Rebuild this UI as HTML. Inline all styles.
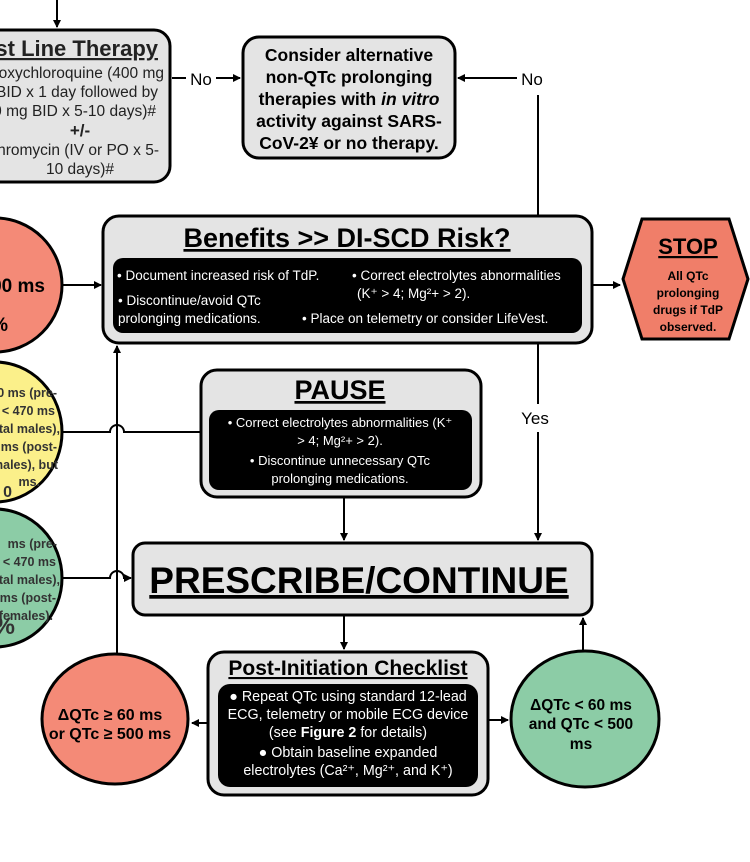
<!DOCTYPE html>
<html><head><meta charset="utf-8"><style>
html,body{margin:0;padding:0;background:#fff;}
svg{display:block;font-family:"Liberation Sans",sans-serif;}
</style></head><body>
<svg width="750" height="862" viewBox="0 0 750 862" xmlns="http://www.w3.org/2000/svg">
<defs>
<marker id="ah" markerWidth="8" markerHeight="8" refX="7" refY="4" orient="auto" markerUnits="userSpaceOnUse"><path d="M0,0 L8,4 L0,8 z" fill="#000"/></marker>
</defs>
<g stroke="#000" stroke-width="2" fill="none">
<line x1="57" y1="0" x2="57" y2="27" marker-end="url(#ah)"/>
<line x1="172" y1="78" x2="186" y2="78"/><line x1="216" y1="78" x2="240" y2="78" marker-end="url(#ah)"/>
<line x1="538" y1="215" x2="538" y2="95"/>
<line x1="517" y1="78" x2="458" y2="78" marker-end="url(#ah)"/>
<line x1="62" y1="285" x2="101" y2="285" marker-end="url(#ah)"/>
<line x1="592" y1="285" x2="620" y2="285" marker-end="url(#ah)"/>
<path d="M62,432 L110,432 A7,7 0 0 1 124,432 L200,432"/>
<path d="M62,578 L110,578 A7,7 0 0 1 124,578 L131,578" marker-end="url(#ah)"/>
<line x1="117" y1="655" x2="117" y2="346" marker-end="url(#ah)"/>
<line x1="538" y1="343" x2="538" y2="404"/><line x1="538" y1="432" x2="538" y2="540" marker-end="url(#ah)"/>
<line x1="344" y1="497" x2="344" y2="540" marker-end="url(#ah)"/>
<line x1="344" y1="615" x2="344" y2="649" marker-end="url(#ah)"/>
<line x1="583" y1="652" x2="583" y2="618" marker-end="url(#ah)"/>
<line x1="208" y1="723" x2="192" y2="723" marker-end="url(#ah)"/>
<line x1="488" y1="720" x2="508" y2="720" marker-end="url(#ah)"/>
</g>
<text x="201" y="85" font-size="17" text-anchor="middle">No</text>
<text x="532" y="85" font-size="17" text-anchor="middle">No</text>
<text x="535" y="424" font-size="17" text-anchor="middle">Yes</text>

<!-- First line therapy -->
<rect x="-20" y="30" width="190" height="152" rx="16" fill="#e4e4e4" stroke="#000" stroke-width="3"/>
<g font-size="15.5" text-anchor="end" fill="#222">
<text x="158" y="56" font-size="22" font-weight="bold" text-decoration="underline">First Line Therapy</text>
<text x="164" y="78">Hydroxychloroquine (400 mg</text>
<text x="158" y="97">BID x 1 day followed by</text>
<text x="156" y="116">200 mg BID x 5-10 days)#</text>
<text x="80" y="136" font-weight="bold" font-size="17" text-anchor="middle">+/-</text>
<text x="159" y="155">Azithromycin (IV or PO x 5-</text>
<text x="80" y="174" text-anchor="middle">10 days)#</text>
</g>
<!-- Consider -->
<rect x="243" y="37" width="212" height="121" rx="16" fill="#e4e4e4" stroke="#000" stroke-width="3"/>
<g font-size="17.5" font-weight="bold" text-anchor="middle">
<text x="349" y="61">Consider alternative</text>
<text x="349" y="83">non-QTc prolonging</text>
<text x="349" y="105">therapies with <tspan font-style="italic">in vitro</tspan></text>
<text x="349" y="127">activity against SARS-</text>
<text x="349" y="149">CoV-2¥ or no therapy.</text>
</g>
<!-- circles left -->
<ellipse cx="-5" cy="285" rx="67" ry="67" fill="#f48a77" stroke="#000" stroke-width="3"/>
<text x="45" y="292" font-size="19" font-weight="bold" text-anchor="end">&gt;500 ms</text>
<text x="8" y="331" font-size="19" font-weight="bold" text-anchor="end">%</text>
<ellipse cx="-5" cy="432" rx="67" ry="70" fill="#fbf08a" stroke="#000" stroke-width="3"/>
<g font-size="12.5" font-weight="bold" text-anchor="end" fill="#333">
<text x="57" y="397">460 ms (pre-</text><text x="55" y="415">&lt; 470 ms</text><text x="60" y="433">(natal males),</text><text x="57" y="451">ms (post-</text><text x="58" y="469">females), but</text><text x="40" y="486">ms.</text><text x="12" y="497" font-size="16">0</text>
</g>
<ellipse cx="-5" cy="578" rx="67" ry="69" fill="#8ccca6" stroke="#000" stroke-width="3"/>
<g font-size="12.5" font-weight="bold" text-anchor="end" fill="#333">
<text x="57" y="548">ms (pre-</text><text x="56" y="566">&lt; 470 ms</text><text x="60" y="584">natal males),</text><text x="56" y="602">ms (post-</text><text x="53" y="620">females).</text><text x="15" y="634" font-size="24">%</text>
</g>
<!-- Benefits -->
<rect x="103" y="216" width="489" height="127" rx="16" fill="#e4e4e4" stroke="#000" stroke-width="3"/>
<text x="347" y="247" font-size="27" font-weight="bold" text-anchor="middle" text-decoration="underline">Benefits &gt;&gt; DI-SCD Risk?</text>
<rect x="113" y="258" width="469" height="75" rx="10" fill="#000"/>
<g font-size="13.5" fill="#fff">
<text x="117" y="280">• Document increased risk of TdP.</text>
<text x="352" y="280">• Correct electrolytes abnormalities</text>
<text x="357" y="298">(K⁺ &gt; 4; Mg²+ &gt; 2).</text>
<text x="118" y="305">• Discontinue/avoid QTc</text>
<text x="118" y="323">prolonging medications.</text>
<text x="302" y="323">• Place on telemetry or consider LifeVest.</text>
</g>
<!-- STOP -->
<polygon points="642,219 729,219 748,279 729,339 642,339 623,279" fill="#f07e69" stroke="#000" stroke-width="3"/>
<text x="688" y="254" font-size="22" font-weight="bold" text-anchor="middle" text-decoration="underline">STOP</text>
<g font-size="12" font-weight="bold" text-anchor="middle">
<text x="688" y="280">All QTc</text><text x="688" y="297">prolonging</text><text x="688" y="314">drugs if TdP</text><text x="688" y="331">observed.</text>
</g>
<!-- PAUSE -->
<rect x="201" y="370" width="280" height="127" rx="16" fill="#e4e4e4" stroke="#000" stroke-width="3"/>
<text x="340" y="399" font-size="27" font-weight="bold" text-anchor="middle" text-decoration="underline">PAUSE</text>
<rect x="209" y="410" width="263" height="80" rx="10" fill="#000"/>
<g font-size="13" fill="#fff" text-anchor="middle">
<text x="340" y="427">• Correct electrolytes abnormalities (K⁺</text>
<text x="340" y="445">&gt; 4; Mg²+ &gt; 2).</text>
<text x="340" y="465">• Discontinue unnecessary QTc</text>
<text x="340" y="483">prolonging medications.</text>
</g>
<!-- PRESCRIBE -->
<rect x="133" y="543" width="459" height="72" rx="12" fill="#e4e4e4" stroke="#000" stroke-width="3"/>
<text x="359" y="593" font-size="37" font-weight="bold" text-anchor="middle" text-decoration="underline">PRESCRIBE/CONTINUE</text>
<!-- Post-initiation -->
<rect x="208" y="652" width="280" height="143" rx="16" fill="#e4e4e4" stroke="#000" stroke-width="3"/>
<text x="348" y="675" font-size="21" font-weight="bold" text-anchor="middle" text-decoration="underline">Post-Initiation Checklist</text>
<rect x="218" y="684" width="260" height="103" rx="12" fill="#000"/>
<g font-size="14.3" fill="#fff" text-anchor="middle">
<text x="348" y="701">● Repeat QTc using standard 12-lead</text>
<text x="348" y="719">ECG, telemetry or mobile ECG device</text>
<text x="348" y="737">(see <tspan font-weight="bold">Figure 2</tspan> for details)</text>
<text x="348" y="757">● Obtain baseline expanded</text>
<text x="348" y="775">electrolytes (Ca²⁺, Mg²⁺, and K⁺)</text>
</g>
<!-- bottom circles -->
<ellipse cx="115" cy="719" rx="73" ry="65" fill="#f48a77" stroke="#000" stroke-width="3"/>
<g font-size="16" font-weight="bold" text-anchor="middle">
<text x="110" y="720">ΔQTc ≥ 60 ms</text><text x="110" y="739">or QTc ≥ 500 ms</text>
</g>
<ellipse cx="585" cy="719" rx="74" ry="68" fill="#8ccca6" stroke="#000" stroke-width="3"/>
<g font-size="15.5" font-weight="bold" text-anchor="middle">
<text x="581" y="710">ΔQTc &lt; 60 ms</text><text x="581" y="729">and QTc &lt; 500</text><text x="581" y="749">ms</text>
</g>
</svg>
</body></html>
